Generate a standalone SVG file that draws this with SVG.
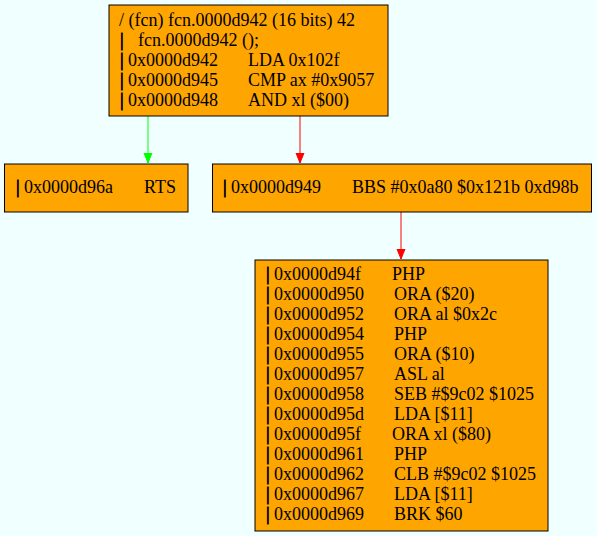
<svg xmlns="http://www.w3.org/2000/svg" width="597" height="536" viewBox="0 0 597 536">
<style>
.n{fill:#ffa500;stroke:#000;stroke-width:1}
text{font-family:"Liberation Serif","Times New Roman",serif;font-size:18px;fill:#000}
.b{stroke:#000;stroke-width:0.8}
.g{stroke:#00ff00;fill:none}
.r{stroke:#ff0000;fill:none}
</style>
<defs>
<marker id="ag" markerWidth="10" markerHeight="10" refX="10" refY="5" orient="auto" markerUnits="userSpaceOnUse"><path d="M0,1 L10,5 L0,9 Z" fill="#00ff00" stroke="#00ff00"/></marker>
<marker id="ar" markerWidth="10" markerHeight="10" refX="10" refY="5" orient="auto" markerUnits="userSpaceOnUse"><path d="M0,1 L10,5 L0,9 Z" fill="#ff0000" stroke="#ff0000"/></marker>
</defs>
<rect width="597" height="536" fill="#f0ffff"/>
<g id="edges">
<path class="g" d="M148,116 L148,163" marker-end="url(#ag)"/>
<path class="r" d="M300,116 L300,163" marker-end="url(#ar)"/>
<path class="r" d="M401,212 L401,259" marker-end="url(#ar)"/>
</g>
<g id="n1">
<rect class="n" x="109" y="5" width="279" height="111"/>
<text x="119" y="26">/ (fcn) fcn.0000d942 (16 bits) 42</text>
<text x="120" y="46"><tspan class="b">|</tspan></text><text x="138" y="46">fcn.0000d942 ();</text>
<text x="120" y="66"><tspan class="b">|</tspan> 0x0000d942</text><text x="248" y="66">LDA 0x102f</text>
<text x="120" y="86"><tspan class="b">|</tspan> 0x0000d945</text><text x="248" y="86">CMP ax #0x9057</text>
<text x="120" y="106"><tspan class="b">|</tspan> 0x0000d948</text><text x="248" y="106">AND xl ($00)</text>
</g>
<g id="n2">
<rect class="n" x="4.5" y="164" width="183.5" height="48"/>
<text x="16" y="193"><tspan class="b">|</tspan> 0x0000d96a</text><text x="144" y="193">RTS</text>
</g>
<g id="n3">
<rect class="n" x="212.5" y="164" width="379" height="48"/>
<text x="223" y="193"><tspan class="b">|</tspan> 0x0000d949</text><text x="352" y="193">BBS #0x0a80 $0x121b 0xd98b</text>
</g>
<g id="n4">
<rect class="n" x="255" y="260" width="293" height="271"/>
<text x="266" y="280"><tspan class="b">|</tspan> 0x0000d94f</text><text x="392" y="280">PHP</text>
<text x="266" y="300"><tspan class="b">|</tspan> 0x0000d950</text><text x="394" y="300">ORA ($20)</text>
<text x="266" y="320"><tspan class="b">|</tspan> 0x0000d952</text><text x="394" y="320">ORA al $0x2c</text>
<text x="266" y="340"><tspan class="b">|</tspan> 0x0000d954</text><text x="394" y="340">PHP</text>
<text x="266" y="360"><tspan class="b">|</tspan> 0x0000d955</text><text x="394" y="360">ORA ($10)</text>
<text x="266" y="380"><tspan class="b">|</tspan> 0x0000d957</text><text x="394" y="380">ASL al</text>
<text x="266" y="400"><tspan class="b">|</tspan> 0x0000d958</text><text x="394" y="400">SEB #$9c02 $1025</text>
<text x="266" y="420"><tspan class="b">|</tspan> 0x0000d95d</text><text x="394" y="420">LDA [$11]</text>
<text x="266" y="440"><tspan class="b">|</tspan> 0x0000d95f</text><text x="392" y="440">ORA xl ($80)</text>
<text x="266" y="460"><tspan class="b">|</tspan> 0x0000d961</text><text x="394" y="460">PHP</text>
<text x="266" y="480"><tspan class="b">|</tspan> 0x0000d962</text><text x="394" y="480">CLB #$9c02 $1025</text>
<text x="266" y="500"><tspan class="b">|</tspan> 0x0000d967</text><text x="394" y="500">LDA [$11]</text>
<text x="266" y="520"><tspan class="b">|</tspan> 0x0000d969</text><text x="394" y="520">BRK $60</text>
</g>
</svg>
